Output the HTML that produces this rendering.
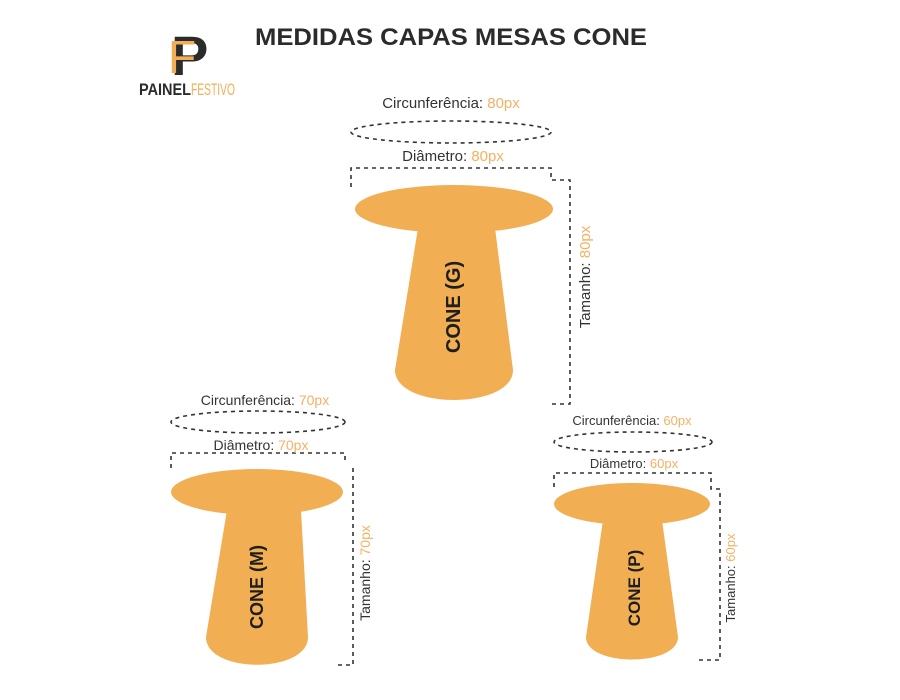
<!DOCTYPE html>
<html><head><meta charset="utf-8"><style>
html,body{margin:0;padding:0;background:#fff;}
svg{display:block;}
text{font-family:"Liberation Sans",sans-serif;}
</style></head><body>
<svg width="900" height="700" viewBox="0 0 900 700" xmlns="http://www.w3.org/2000/svg">
<!-- logo -->
<text x="171" y="75" font-family="Liberation Serif" font-size="56" fill="#2b2b2b" font-weight="bold">P</text>
<text x="168" y="73" font-family="Liberation Serif" font-size="46" fill="#f2ad55">F</text>
<text x="139" y="95" font-size="17" font-weight="bold" fill="#2b2b2b" textLength="52" lengthAdjust="spacingAndGlyphs">PAINEL</text>
<text x="191" y="95" font-size="17" fill="#f2ad55" textLength="44" lengthAdjust="spacingAndGlyphs">FESTIVO</text>
<!-- title -->
<text x="451" y="45" text-anchor="middle" font-size="24" font-weight="bold" fill="#2b2b2b" textLength="392" lengthAdjust="spacingAndGlyphs">MEDIDAS CAPAS MESAS CONE</text>

<g fill="none" stroke="#333" stroke-width="1.6" stroke-dasharray="4,4">
<!-- G -->
<ellipse cx="451" cy="132" rx="100" ry="11"/>
<polyline points="351,187 351,168 551,168 551,180 570,180 570,404 548,404"/>
<!-- M -->
<ellipse cx="258" cy="422" rx="87" ry="11"/>
<polyline points="171,468 171,453 345,453 345,463"/>
<polyline points="353,468 353,665 334,665"/>
<!-- P -->
<ellipse cx="633" cy="442" rx="79" ry="10"/>
<polyline points="554,487 554,473 711,473 711,489 720,489 720,660 699,660"/>
</g>

<g fill="#f2ae53">
<!-- G -->
<path d="M418,228 L495,228 L513,370 C513,410 395,410 395,370 Z"/>
<ellipse cx="454" cy="209" rx="99" ry="24"/>
<!-- M -->
<path d="M227,510 L301,510 L308,637 C308,674 206,674 206,637 Z"/>
<ellipse cx="257" cy="492" rx="86" ry="23"/>
<!-- P -->
<path d="M603,520 L662,520 L678,637 C678,667 586,667 586,637 Z"/>
<ellipse cx="632" cy="504" rx="78" ry="21"/>
</g>

<g font-size="15" fill="#333" text-anchor="middle">
<text x="451" y="108">Circunferência: <tspan fill="#f5b064">80px</tspan></text>
<text x="453" y="161">Diâmetro: <tspan fill="#f5b064">80px</tspan></text>
<text transform="translate(590,277) rotate(-90)">Tamanho: <tspan fill="#f5b064">80px</tspan></text>
<text x="265" y="405" font-size="14">Circunferência: <tspan fill="#f5b064">70px</tspan></text>
<text x="261" y="450" font-size="14">Diâmetro: <tspan fill="#f5b064">70px</tspan></text>
<text transform="translate(370,573) rotate(-90)" font-size="14">Tamanho: <tspan fill="#f5b064">70px</tspan></text>
<text x="632" y="425" font-size="13">Circunferência: <tspan fill="#f5b064">60px</tspan></text>
<text x="634" y="468" font-size="13">Diâmetro: <tspan fill="#f5b064">60px</tspan></text>
<text transform="translate(735,578) rotate(-90)" font-size="13">Tamanho: <tspan fill="#f5b064">60px</tspan></text>
</g>

<g font-weight="bold" fill="#1e1e1e" text-anchor="middle">
<text transform="translate(460,307) rotate(-90)" font-size="20">CONE (G)</text>
<text transform="translate(263,587) rotate(-90)" font-size="18">CONE (M)</text>
<text transform="translate(640,588) rotate(-90)" font-size="17">CONE (P)</text>
</g>
</svg>
</body></html>
